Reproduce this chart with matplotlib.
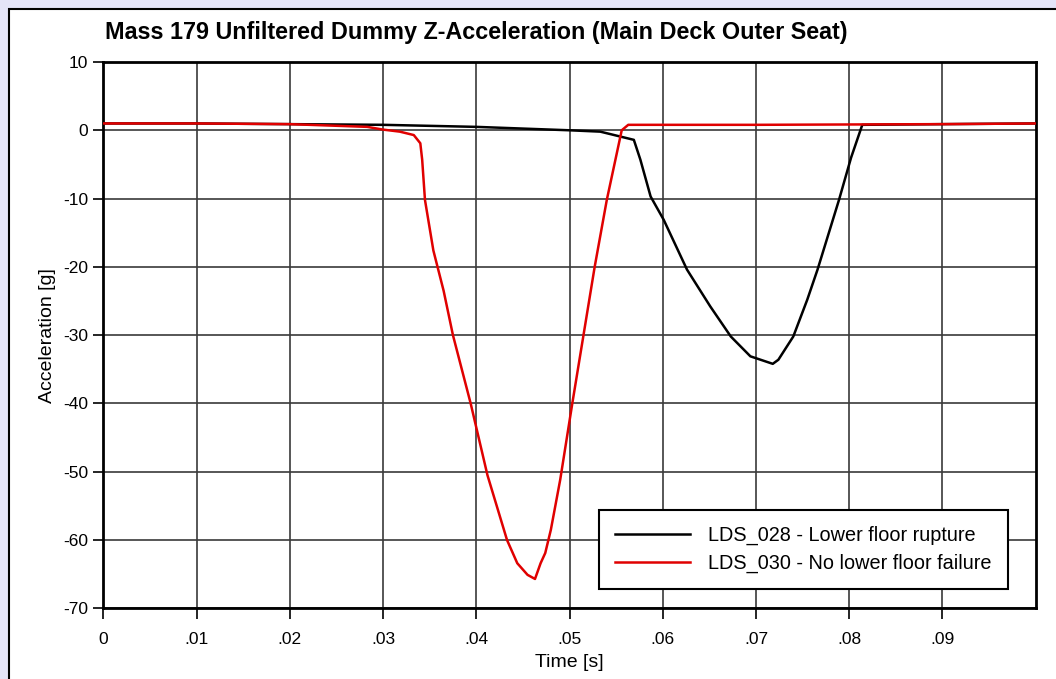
import matplotlib
matplotlib.use('Agg')
import matplotlib.pyplot as plt
from matplotlib.patches import Rectangle
from matplotlib.ticker import FuncFormatter, MultipleLocator

plt.rcParams['font.family'] = ['Liberation Sans', 'DejaVu Sans']
plt.rcParams['axes.unicode_minus'] = False

# LDS_028 - lower floor rupture (black)
t_028 = [0, 0.01, 0.02, 0.03, 0.04, 0.05, 0.0533, 0.0569, 0.0576, 0.0587, 0.0601,
         0.0626, 0.0651, 0.0673, 0.0694, 0.0718, 0.0724, 0.074, 0.0755, 0.0766,
         0.0789, 0.0802, 0.0814, 0.09, 0.1]
a_028 = [1.0, 1.0, 0.9, 0.8, 0.5, 0.0, -0.2, -1.4, -4.3, -9.7, -13.1,
         -20.4, -25.8, -30.2, -33.1, -34.2, -33.6, -30.2, -24.8, -20.4,
         -10.2, -4.0, 0.8, 0.9, 1.0]

# LDS_030 - no lower floor failure (red)
t_030 = [0, 0.01, 0.02, 0.0283, 0.03, 0.0318, 0.0333, 0.034, 0.0342, 0.0345,
         0.0354, 0.0365, 0.0375, 0.0394, 0.0412, 0.0433, 0.0444, 0.0455,
         0.0463, 0.0469, 0.0474, 0.0480, 0.0490, 0.0503, 0.0515, 0.0527, 0.0540,
         0.0556, 0.0563, 0.07, 0.09, 0.1]
a_030 = [1.0, 1.0, 0.9, 0.5, 0.1, -0.2, -0.7, -1.9, -4.3, -10.2,
         -17.6, -23.5, -30.0, -40.0, -50.5, -60.0, -63.4, -65.1,
         -65.7, -63.4, -61.9, -58.5, -51.2, -40.0, -30.0, -20.0, -10.2,
         0.0, 0.8, 0.8, 0.9, 1.0]

fig = plt.figure(figsize=(10.56, 6.79), dpi=100)
fig.patch.set_facecolor('#e4e4f8')
# white panel with black border
fig.patches.append(Rectangle((9 / 1056, -0.1), 1.2, 1 - 9 / 679 + 0.1,
                             transform=fig.transFigure, facecolor='white',
                             edgecolor='black', linewidth=1.5, zorder=-10))

ax = fig.add_axes([0.0978, 0.1041, 0.9808 - 0.0978, 0.9087 - 0.1041])
ax.plot(t_028, a_028, color='black', lw=1.8, label='LDS_028 - Lower floor rupture', zorder=3)
ax.plot(t_030, a_030, color='#e00000', lw=1.8, label='LDS_030 - No lower floor failure', zorder=3)

ax.set_xlim(0, 0.1)
ax.set_ylim(-70, 10)
ax.yaxis.set_major_locator(MultipleLocator(10))
ax.set_xticks([i * 0.01 for i in range(10)])
ax.xaxis.set_major_formatter(FuncFormatter(lambda v, p: '0' if abs(v) < 1e-9 else ('%.2f' % v)[1:]))
ax.grid(True, color='#3a3a3a', lw=1.2)
ax.set_axisbelow(True)
ax.tick_params(direction='out', length=7, width=1.2, labelsize=12.5, pad=4)
ax.tick_params(axis='x', length=8, pad=9)
for s in ax.spines.values():
    s.set_linewidth(2)

ax.set_xlabel('Time [s]', fontsize=14, labelpad=5)
ax.set_ylabel('Acceleration [g]', fontsize=14, labelpad=5)
fig.text(105 / 1056, 1 - 33 / 679, 'Mass 179 Unfiltered Dummy Z-Acceleration (Main Deck Outer Seat)',
         fontsize=16.8, fontweight='bold', ha='left', va='center')

leg = ax.legend(loc='lower right', bbox_to_anchor=(0.970, 0.0353), borderaxespad=0,
                fontsize=14.3, frameon=True, fancybox=False, handlelength=3.8,
                handletextpad=0.9, borderpad=0.8, labelspacing=0.45)
leg.get_frame().set_edgecolor('black')
leg.get_frame().set_linewidth(1.5)
leg.get_frame().set_alpha(1)

fig.savefig('out.png', dpi=100, facecolor=fig.get_facecolor())
